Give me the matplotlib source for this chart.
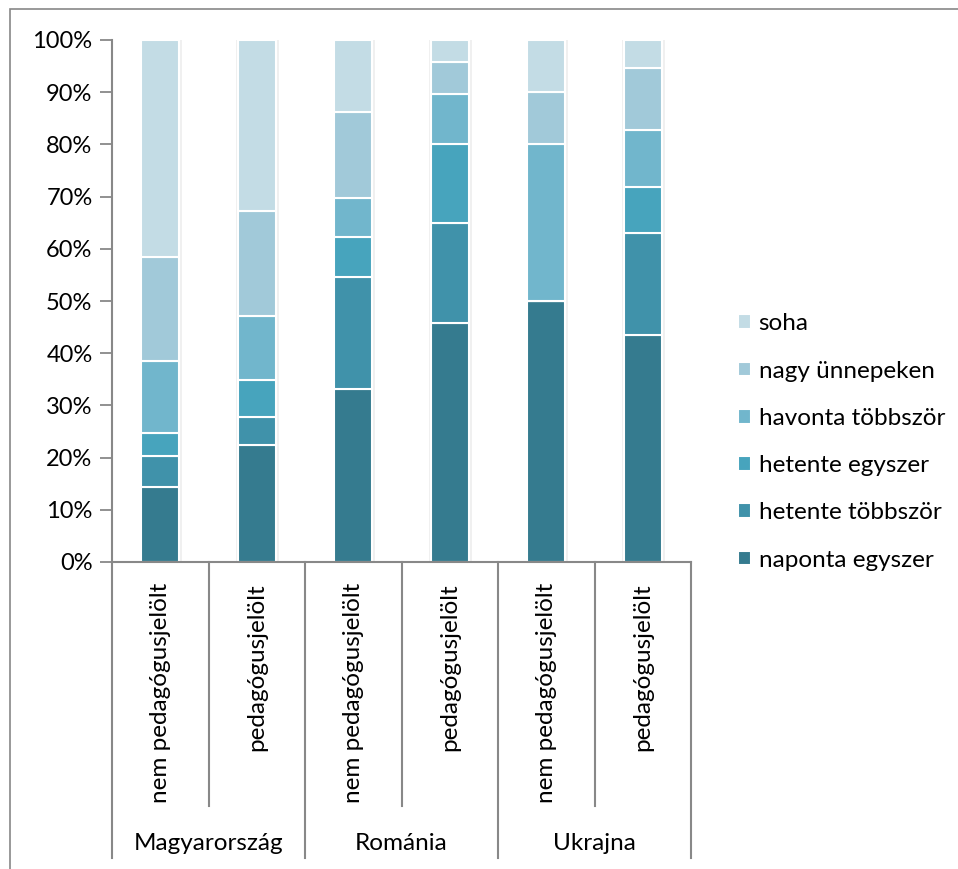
import matplotlib.pyplot as plt
import matplotlib.transforms as mtransforms
from matplotlib.patches import Rectangle
from matplotlib.ticker import PercentFormatter
import numpy as np

plt.rcParams['font.family'] = ['Lato', 'DejaVu Sans']

# országok és csoportok
countries = ["Magyarország", "Románia", "Ukrajna"]
groups = ["nem pedagógusjelölt", "pedagógusjelölt"]

# válaszkategóriák alulról felfelé
categories = ["naponta egyszer", "hetente többször", "hetente egyszer",
              "havonta többször", "nagy ünnepeken", "soha"]

# százalékos megoszlás (HU nem, HU ped, RO nem, RO ped, UA nem, UA ped)
naponta_egyszer = [14.3, 22.5, 33.1, 45.8, 50.0, 43.5]
hetente_tobbszor = [6.1, 5.3, 21.5, 19.2, 0.0, 19.6]
hetente_egyszer = [4.4, 7.0, 7.6, 15.0, 0.0, 8.8]
havonta_tobbszor = [13.8, 12.4, 7.6, 9.6, 30.0, 10.9]
nagy_unnepeken = [19.9, 20.1, 16.5, 6.2, 10.0, 11.9]
soha = [41.5, 32.7, 13.7, 4.2, 10.0, 5.3]

series = [naponta_egyszer, hetente_tobbszor, hetente_egyszer,
          havonta_tobbszor, nagy_unnepeken, soha]
colors = ["#357b8f", "#4092aa", "#47a4bd", "#71b6cc", "#a1c9d9", "#c3dce5"]

fig = plt.figure(figsize=(9.58, 8.69), dpi=100)
ax = fig.add_axes([112 / 958, 1 - 562 / 869, (691 - 112) / 958, (562 - 40) / 869])

n = len(naponta_egyszer)
x = np.arange(n)
bottom = np.zeros(n)
width = 0.39

# halvány árnyék a oszlopok mögött
ax.bar(x + 0.01, np.full(n, 100.0), width=width + 0.05, color="#e6e6e6",
       alpha=0.6, zorder=1, linewidth=0)

for vals, col, lab in zip(series, colors, categories):
    vals = np.array(vals)
    ax.bar(x, vals, width=width, bottom=bottom, color=col, label=lab,
           edgecolor="white", linewidth=1.5, zorder=2)
    bottom += vals

ax.set_xlim(-0.5, n - 0.5)
ax.set_ylim(0, 100)
ax.set_yticks(np.arange(0, 101, 10))
ax.yaxis.set_major_formatter(PercentFormatter(decimals=0))
ax.tick_params(axis="y", length=9, width=1.3, color="#888888",
               labelsize=17, pad=5, direction="out")
ax.set_xticks([])

for side in ["top", "right"]:
    ax.spines[side].set_visible(False)
for side in ["left", "bottom"]:
    ax.spines[side].set_color("#888888")
    ax.spines[side].set_linewidth(1.5)

# kétszintű kategóriatengely
trans = mtransforms.blended_transform_factory(ax.transData, fig.transFigure)
y_axis = 1 - 562 / 869
y_short = 1 - 806 / 869
y_long = 1 - 858 / 869

for i in range(n + 1):
    xpos = i - 0.5
    y_end = y_long if i % 2 == 0 else y_short
    ax.plot([xpos, xpos], [y_axis, y_end], transform=trans, color="#888888",
            linewidth=1.5, clip_on=False)

for i in range(n):
    ax.text(i, 1 - 583 / 869, groups[i % 2], transform=trans, rotation=90,
            ha="center", va="top", fontsize=17.5)

for j, country in enumerate(countries):
    ax.text(2 * j + 0.5, 1 - 843 / 869, country, transform=trans,
            ha="center", va="center", fontsize=17.5)

# jelmagyarázat fordított sorrendben
handles, labels = ax.get_legend_handles_labels()
fig.legend(handles[::-1], labels[::-1], loc="center left",
           bbox_to_anchor=(716 / 958, 1 - 442 / 869), frameon=False,
           fontsize=17.5, handlelength=0.55, handleheight=0.55,
           handletextpad=0.3, labelspacing=1.08)

# keret a diagram körül
fig.add_artist(Rectangle((10 / 958, -0.1), 1.2, 1.1 - 9 / 869,
                         transform=fig.transFigure, fill=False,
                         edgecolor="#888888", linewidth=1.2))

plt.savefig("out.png", dpi=100)
